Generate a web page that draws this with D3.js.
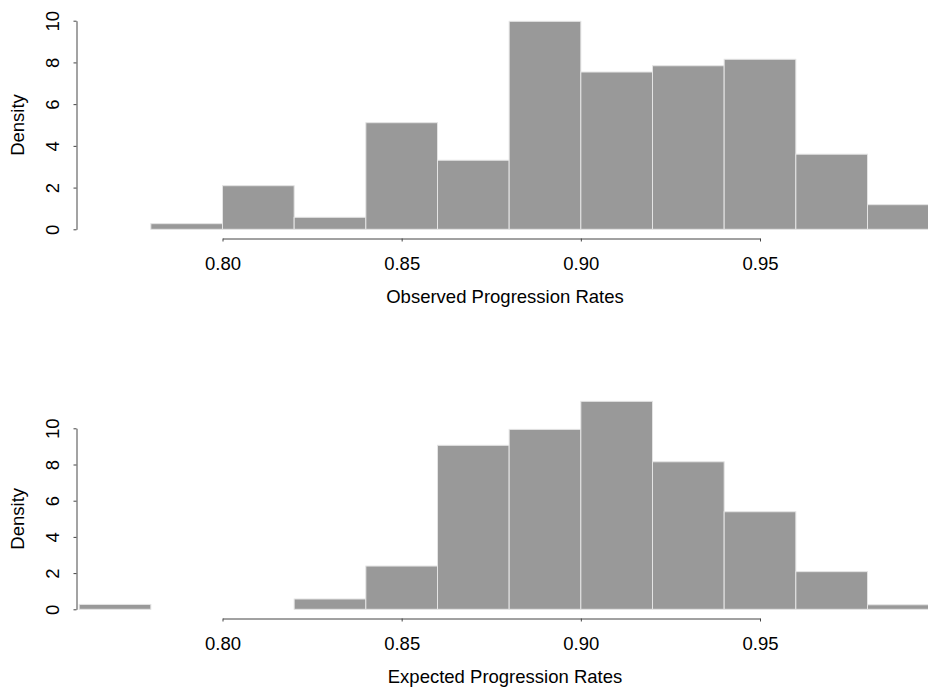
<!DOCTYPE html>
<html>
<head>
<meta charset="utf-8">
<script src="https://cdn.jsdelivr.net/npm/d3@7"></script>
<style>
  html, body { margin: 0; padding: 0; background: #fff; }
  svg { display: block; font-family: "Liberation Sans", Arial, sans-serif; }
</style>
</head>
<body>
<svg id="chart" width="928" height="687"></svg>
<script>
// histogram bin starts (width 0.02) and densities
const binWidth = 0.02;
const obsBins = [0.78, 0.80, 0.82, 0.84, 0.86, 0.88, 0.90, 0.92, 0.94, 0.96, 0.98];
const obsDensity = [0.27, 2.09, 0.575, 5.11, 3.31, 9.97, 7.54, 7.84, 8.15, 3.6, 1.18];
const expBins = [0.76, 0.78, 0.80, 0.82, 0.84, 0.86, 0.88, 0.90, 0.92, 0.94, 0.96, 0.98];
const expDensity = [0.27, 0, 0, 0.57, 2.39, 9.06, 9.94, 11.49, 8.15, 5.39, 2.08, 0.25];
const xTicks = [0.80, 0.85, 0.90, 0.95];
const yTicks = [0, 2, 4, 6, 8, 10];

const svg = d3.select('#chart');
const fs = 18.5;

// same x mapping for both panels
const x = d3.scaleLinear().domain([0.80, 0.95]).range([222.5, 760]);
const axisX = 76.5;
const titleX = 505; // centre of the (clipped) plot region

function panel(bins, dens, y0, y10, axisY, title) {
  const y = d3.scaleLinear().domain([0, 10]).range([y0, y10]);
  const g = svg.append('g');

  // bars
  g.selectAll('rect').data(bins).join('rect')
    .attr('x', d => x(d))
    .attr('width', d => x(d + binWidth) - x(d))
    .attr('y', (d, i) => y(dens[i]))
    .attr('height', (d, i) => y(0) - y(dens[i]))
    .attr('fill', '#999999')
    .attr('stroke', '#e4e4e4')
    .attr('stroke-width', 1);

  // x axis
  const ax = g.append('g').attr('transform', `translate(0,${axisY})`)
    .call(d3.axisBottom(x).tickValues(xTicks).tickSize(3).tickSizeOuter(0)
      .tickFormat(d3.format('.2f')));
  ax.select('.domain').attr('stroke', '#444');
  ax.selectAll('.tick line').attr('stroke', '#444');
  ax.selectAll('.tick text').attr('font-size', fs).attr('fill', '#000')
    .attr('font-family', '"Liberation Sans", Arial, sans-serif')
    .attr('y', 31).attr('dy', 0);

  // y axis
  const ay = g.append('g').attr('transform', `translate(${axisX},0)`)
    .call(d3.axisLeft(y).tickValues(yTicks).tickSize(3).tickSizeOuter(0));
  ay.select('.domain').attr('stroke', '#666').attr('stroke-width', 1.2);
  ay.selectAll('.tick line').attr('stroke', '#444');
  ay.selectAll('.tick text').remove();
  ay.selectAll('.tick').append('text')
    .attr('transform', 'translate(-18,0) rotate(-90)')
    .attr('text-anchor', 'middle')
    .attr('font-size', fs).attr('fill', '#000')
    .attr('font-family', '"Liberation Sans", Arial, sans-serif')
    .text(d => d);

  // titles
  g.append('text')
    .attr('x', titleX).attr('y', axisY + 64)
    .attr('text-anchor', 'middle').attr('font-size', fs)
    .text(title);
  g.append('text')
    .attr('transform', `translate(24,${(y0 + y10) / 2}) rotate(-90)`)
    .attr('text-anchor', 'middle').attr('font-size', fs)
    .text('Density');
}

panel(obsBins, obsDensity, 229.3, 20.7, 238.5, 'Observed Progression Rates');
panel(expBins, expDensity, 609.3, 428.3, 618.5, 'Expected Progression Rates');
</script>
</body>
</html>
